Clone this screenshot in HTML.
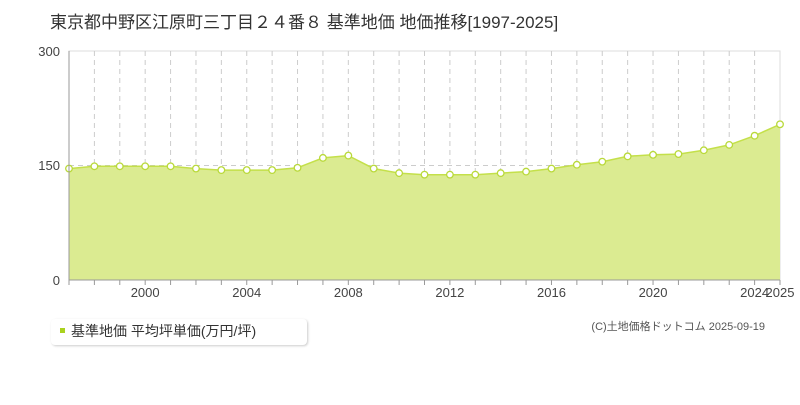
<!DOCTYPE html>
<html><head><meta charset="utf-8"><style>
body{margin:0;background:#fff;width:800px;height:400px;overflow:hidden;font-family:"Liberation Sans","Noto Sans CJK JP",sans-serif}
</style></head><body>
<svg width="800" height="400" xmlns="http://www.w3.org/2000/svg" font-family="Liberation Sans, Noto Sans CJK JP, sans-serif">
<text x="50" y="28" font-size="17" fill="#333">東京都中野区江原町三丁目２４番８ 基準地価 地価推移[1997-2025]</text>
<rect x="69" y="51" width="711" height="229" fill="#fff" stroke="#ddd"/>
<g stroke="#ccc" stroke-dasharray="5,4" id="g"></g>
<line x1="69" y1="165.5" x2="780" y2="165.5" stroke="#ccc" stroke-dasharray="5,4"/>
<g id="s"></g>
<line x1="69" y1="51" x2="69" y2="280" stroke="#999"/>
<line x1="69" y1="280" x2="780" y2="280" stroke="#999"/>
<g font-size="13" fill="#444" text-anchor="end">
<text x="60" y="56">300</text><text x="60" y="170">150</text><text x="60" y="285">0</text></g>
<g font-size="13" fill="#444" text-anchor="middle" id="xl"></g>
<rect x="51" y="319" width="256" height="26" rx="4" fill="#fff" style="filter:drop-shadow(1px 1px 1px #ccc)"/>
<rect x="60" y="328" width="5" height="5" fill="#aad21e"/>
<text x="71" y="336" font-size="14" fill="#333">基準地価 平均坪単価(万円/坪)</text>
<text x="765" y="330" font-size="11" fill="#555" text-anchor="end">(C)土地価格ドットコム 2025-09-19</text>
</svg>
<script>
var v=[146,149,149,149,149,146,144,144,144,147,160,163,146,140,138,138,138,140,142,146,151,155,162,164,165,170,177,189,204];
var ns="http://www.w3.org/2000/svg",g=document.getElementById('g'),s=document.getElementById('s'),xl=document.getElementById('xl');
function X(i){return 69+i*711/28}function Y(a){return 280-a*229/300}
var h='',pts=[];
for(var i=0;i<=28;i++){var x=X(i);
if(i>0&&i<28)h+='<line x1="'+x+'" y1="51" x2="'+x+'" y2="280"/>';
pts.push(x.toFixed(1)+','+Y(v[i]).toFixed(1));}
g.innerHTML=h;
var t='<polygon points="69,280 '+pts.join(' ')+' 780,280" fill="#dbeb91"/><polyline points="'+pts.join(' ')+'" fill="none" stroke="#c4e04a" stroke-width="1.5"/>';
for(var i=0;i<=28;i++)t+='<circle cx="'+X(i)+'" cy="'+Y(v[i])+'" r="3.3" fill="#fff" stroke="#b9d93a" stroke-width="1.3"/>';
for(var i=0;i<=28;i++)t+='<line x1="'+X(i)+'" y1="280" x2="'+X(i)+'" y2="285" stroke="#999"/>';
s.innerHTML=t;
var l='';[2000,2004,2008,2012,2016,2020,2024,2025].forEach(function(y){l+='<text x="'+X(y-1997)+'" y="297">'+y+'</text>'});
xl.innerHTML=l;
</script>
</body></html>
